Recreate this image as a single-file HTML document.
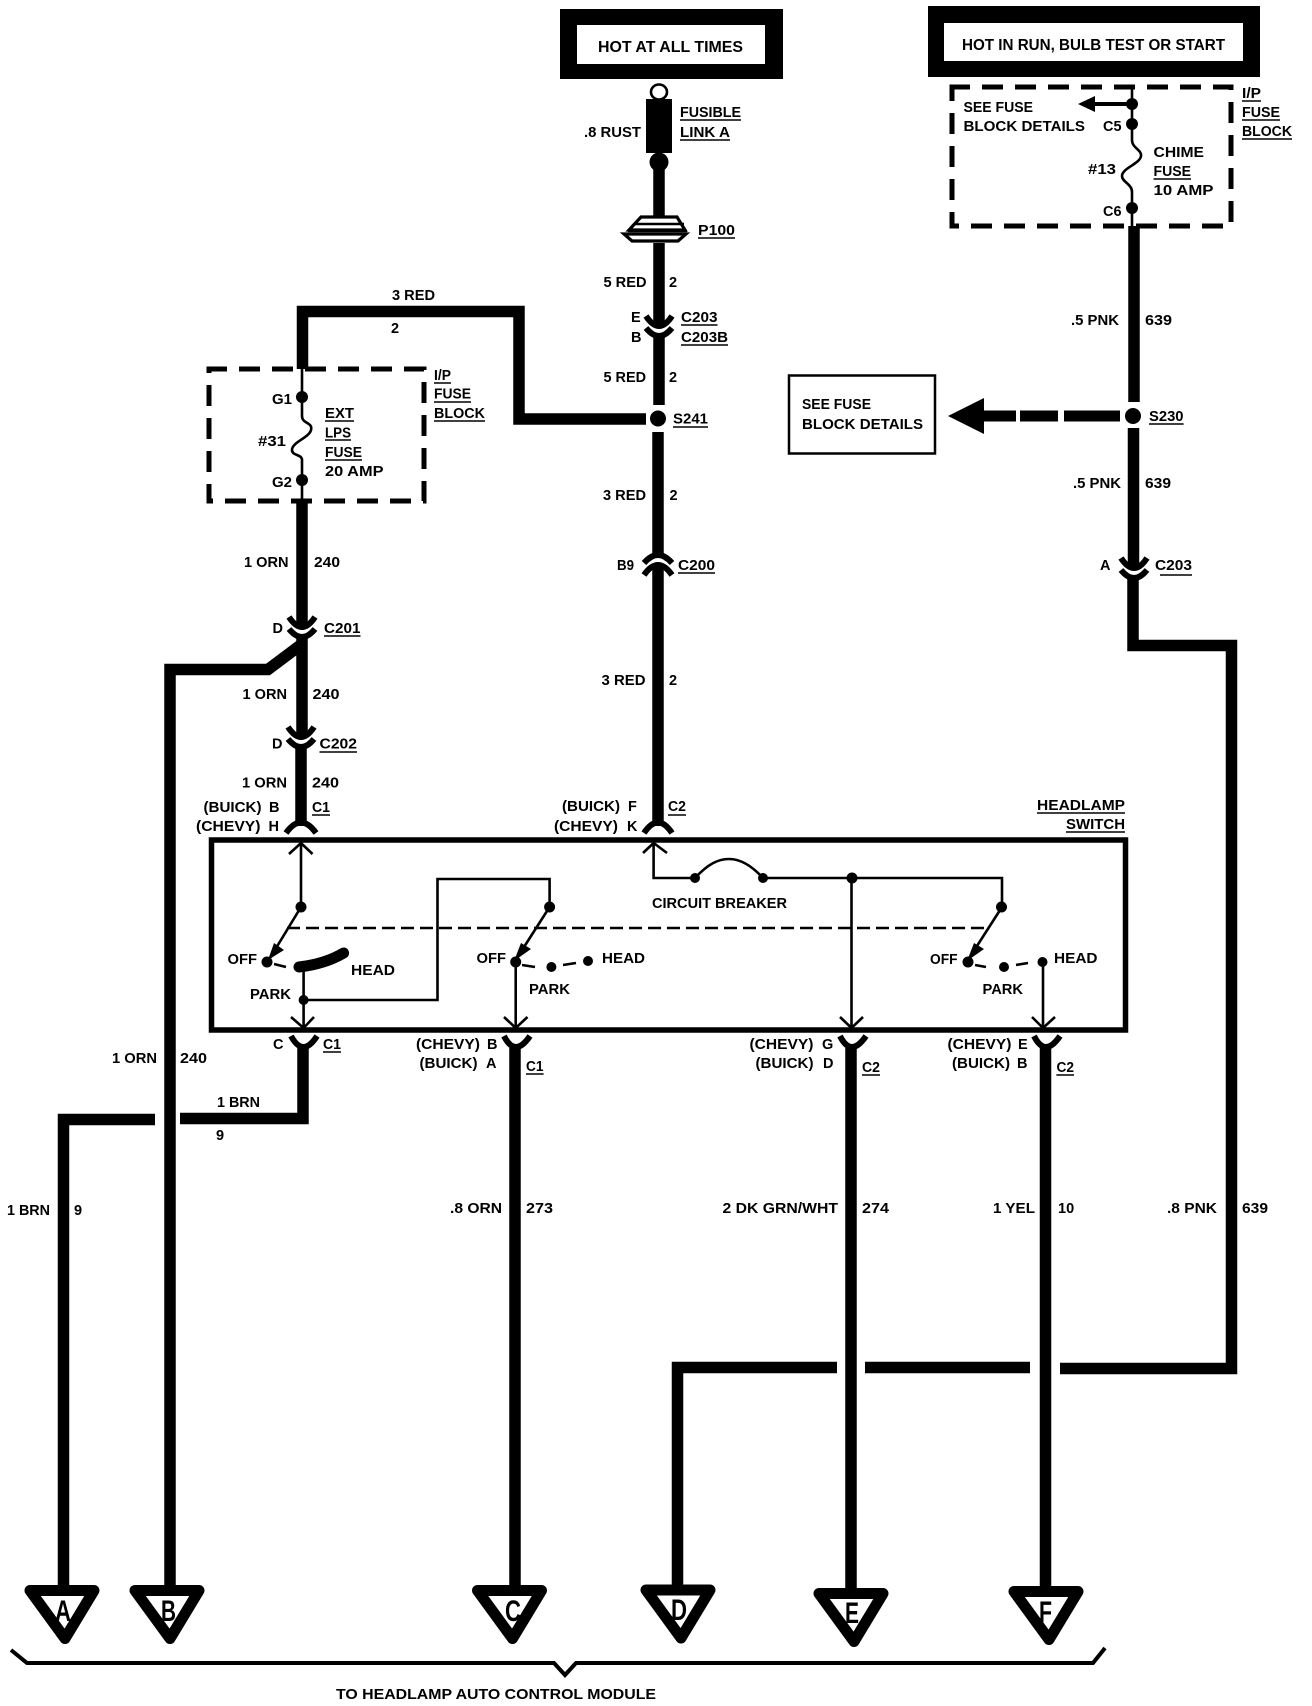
<!DOCTYPE html>
<html><head><meta charset="utf-8"><title>Headlamp switch wiring diagram</title>
<style>
html,body{margin:0;padding:0;background:#fff}
svg{display:block}
text{font-family:"Liberation Sans",sans-serif;font-weight:bold;font-size:14.5px;fill:#000}
.w{fill:none;stroke:#000;stroke-width:11.5}
.t{fill:none;stroke:#000;stroke-width:2.6}
.c{fill:none;stroke:#000;stroke-width:6}
.u{fill:none;stroke:#000;stroke-width:1.5}
.d{fill:none;stroke:#000;stroke-width:5;stroke-dasharray:21 12;stroke-dashoffset:3}
.tri{fill:#fff;stroke:#000;stroke-width:11;stroke-linejoin:round}
.big{font-size:30px}
</style></head><body>
<svg xmlns="http://www.w3.org/2000/svg" width="1312" height="1706" viewBox="0 0 1312 1706">
<rect width="1312" height="1706" fill="#fff"/>

<!-- header boxes -->
<rect x="560" y="9" width="223" height="70"/><rect x="577" y="25" width="188" height="39" fill="#fff"/>
<rect x="928" y="6" width="332" height="71"/><rect x="944" y="23" width="299" height="38" fill="#fff"/>
<text x="598" y="52" style="font-size:16px" textLength="145" lengthAdjust="spacingAndGlyphs">HOT AT ALL TIMES</text>
<text x="962" y="50" style="font-size:16px" textLength="263" lengthAdjust="spacingAndGlyphs">HOT IN RUN, BULB TEST OR START</text>

<!-- main wires -->
<path class="w" d="M659,160V216M659,243V326M659,336V405M658,432V555M658,565V826"/>
<path class="w" d="M646,419H519V311.5H302.5V369"/>
<path class="w" d="M302,501V627M302,637V737M301,747V826"/>
<path class="w" d="M302,644L268,669.5H170V1592"/>
<path class="w" d="M303,1048V1118.5H180"/>
<path class="w" d="M155,1119.5H63.5V1590"/>
<path class="w" d="M515,1048V1590M851,1048V1592M1045.5,1048V1590"/>
<path class="w" d="M1134,226V402M1133.5,428V568M1133,578V645.5H1231.5V1368.5H1060"/>
<path class="w" d="M1030,1367.5H865M837,1367.5H677.5V1588"/>

<!-- fusible link -->
<ellipse cx="659" cy="92" rx="8" ry="7.5" fill="#fff" stroke="#000" stroke-width="2.6"/>
<rect x="646" y="99" width="26" height="54"/>
<circle cx="659" cy="162" r="9.5"/>
<!-- P100 -->
<path d="M641,217H677L685,230H629Z" fill="#fff" stroke="#000" stroke-width="3.2"/>
<path d="M634,224H684" fill="none" stroke="#000" stroke-width="2.6"/>
<path d="M624,234H686L678,241H632Z" fill="#fff" stroke="#000" stroke-width="3.2"/>
<path d="M628,231H687" fill="none" stroke="#000" stroke-width="2.4"/>

<!-- connectors -->
<path class="c" d="M646,316Q659,336 672,316M646,328Q659,344 672,328"/>
<path class="c" d="M289,617Q302,637 315,617M289,629Q302,645 315,629"/>
<path class="c" d="M288,727Q301,747 314,727M288,739Q301,755 314,739"/>
<path class="c" d="M644,563Q658,547 672,563M644,575Q658,555 672,575"/>
<path class="c" d="M1121,558Q1134,578 1147,558M1121,570Q1134,586 1147,570"/>
<path class="c" d="M286,833Q301,812 316,833M644,833Q658,812 672,833"/>
<path class="c" d="M291,1036Q303,1058 317,1036M504,1036Q515,1058 530,1036M840,1036Q851,1058 866,1036M1034,1036Q1045,1058 1060,1036"/>

<!-- dashed fuse boxes -->
<rect class="d" x="209" y="369" width="215" height="132"/>
<rect class="d" x="952" y="87" width="279" height="139"/>
<path class="t" d="M302,369V416C302,424 313,422 311,430C309,438 292,442 292,450C292,456 302,454 302,460V501"/>
<circle cx="302" cy="397" r="6"/><circle cx="302" cy="480" r="6"/>
<path class="t" d="M1132,87V140C1132,148 1142,150 1141,156C1140,164 1122,168 1122,176C1122,182 1132,184 1132,192V226"/>
<circle cx="1132" cy="104" r="6"/><circle cx="1132" cy="124" r="6"/><circle cx="1132" cy="208" r="6"/>
<path d="M1094,104H1132" fill="none" stroke="#000" stroke-width="4"/>
<path d="M1078,104L1095,96V112Z"/>

<!-- splices -->
<circle cx="658" cy="418.5" r="8"/>
<circle cx="1133" cy="416" r="8"/>
<path d="M948,416L984,398V434Z"/>
<rect x="984" y="410.5" width="32" height="11"/><rect x="1020" y="410.5" width="38" height="11"/><rect x="1064" y="410.5" width="56" height="11"/>
<rect x="789" y="375.5" width="146" height="78" fill="#fff" stroke="#000" stroke-width="2.5"/>

<!-- headlamp switch box -->
<rect x="211.5" y="840" width="914" height="190" fill="none" stroke="#000" stroke-width="5.5"/>
<path d="M287,928H986" fill="none" stroke="#000" stroke-width="2.4" stroke-dasharray="13 6"/>
<path class="t" d="M301,843V907L270,958"/>
<path class="t" d="M289,854L301,843L312.5,854"/>
<circle cx="301" cy="907" r="5.5"/>
<path d="M268,960L274,943L284,950Z"/>
<circle cx="267" cy="962" r="5.5"/>
<path class="t" d="M274,964L286,967"/>
<path d="M299,967Q325,964 343.6,953" fill="none" stroke="#000" stroke-width="11" stroke-linecap="round"/>
<path class="t" d="M303.6,970V1028M291,1017L303.6,1028L314,1017"/>
<circle cx="303.6" cy="1000" r="5"/>
<path class="t" d="M303.6,1000H437.5V879H549.6V907L515.7,960"/>
<circle cx="549.6" cy="907" r="5.5"/>
<path d="M514,961L521,943L531,949Z"/>
<circle cx="515.7" cy="962" r="5.5"/>
<path class="t" d="M515.7,962V1028M504,1017L515.7,1028L527.5,1017"/>
<path class="t" d="M522,965L535,967M563,965L576,963"/>
<circle cx="551.4" cy="967" r="5"/><circle cx="588" cy="961" r="5"/>

<path class="t" d="M653.6,843V878H695M643,853L653.6,843L667,853"/>
<circle cx="695" cy="878" r="5"/><circle cx="763" cy="878" r="5"/>
<path class="t" d="M695,878C708,864 718,859 729,859C741,859 752,866 763,878H1002V907L968,960"/>
<circle cx="852" cy="878" r="5.5"/>
<path class="t" d="M851.5,878V1028M840,1017L851.5,1028L863,1017"/>
<circle cx="1001.5" cy="907" r="5.5"/>
<path d="M967,961L974,943L984,949Z"/>
<circle cx="968" cy="962" r="5.5"/>
<path class="t" d="M975,965L986,967M1016,965L1028,963"/>
<circle cx="1004" cy="967" r="5"/><circle cx="1042.5" cy="962" r="5"/>
<path class="t" d="M1043,962V1028M1032,1017L1043,1028L1055,1017"/>

<!-- triangles -->
<polygon class="tri" points="30,1590.5 94,1590.5 65,1638.5"/>
<polygon class="tri" points="135,1590.5 199,1590.5 170,1638.5"/>
<polygon class="tri" points="477.5,1590.5 541.5,1590.5 512.5,1638.5"/>
<polygon class="tri" points="646,1590 710,1590 681,1638"/>
<polygon class="tri" points="819,1593.5 883,1593.5 854,1641.5"/>
<polygon class="tri" points="1014,1591.5 1078,1591.5 1049,1639.5"/>
<text class="big" x="55" y="1621" textLength="16" lengthAdjust="spacingAndGlyphs">A</text>
<text class="big" x="161" y="1621" textLength="15" lengthAdjust="spacingAndGlyphs">B</text>
<text class="big" x="505" y="1621" textLength="16" lengthAdjust="spacingAndGlyphs">C</text>
<text class="big" x="671" y="1620" textLength="16" lengthAdjust="spacingAndGlyphs">D</text>
<text class="big" x="845" y="1623" textLength="14" lengthAdjust="spacingAndGlyphs">E</text>
<text class="big" x="1039" y="1622" textLength="13" lengthAdjust="spacingAndGlyphs">F</text>

<!-- bracket -->
<path d="M11,1650L27,1663H554L565,1675L576,1663H1093L1105,1648" fill="none" stroke="#000" stroke-width="4"/>
<text x="336" y="1699" style="font-size:15px" textLength="320" lengthAdjust="spacingAndGlyphs">TO HEADLAMP AUTO CONTROL MODULE</text>

<!-- underlines -->
<path class="u" d="M680,120H741M680,140H730M698,238H735M681,325H717.5M681,345H728M673,427H708M1149,424H1183.6M434,383H451M434,402H471M434,421H485M325,421H354M325,440H351M325,460H362M1242,101H1261M1242,120H1280M1242,139H1292M1153.5,179H1191M324,636H360.5M319.5,752H357M678,573H715M312,815H330M668,815H686M1037,813H1125M1066,832H1125M323,1052H341M526,1074H543.6M862,1075H880M1056.4,1075H1074M1160,575H1192"/>

<!-- labels: top centre -->
<text x="584" y="137" textLength="57" lengthAdjust="spacingAndGlyphs">.8 RUST</text>
<text x="680" y="117" textLength="61" lengthAdjust="spacingAndGlyphs">FUSIBLE</text>
<text x="680" y="137" textLength="50" lengthAdjust="spacingAndGlyphs">LINK A</text>
<text x="698" y="235" textLength="37" lengthAdjust="spacingAndGlyphs">P100</text>
<text x="603.5" y="287" textLength="43" lengthAdjust="spacingAndGlyphs">5 RED</text>
<text x="669" y="287">2</text>
<text x="631" y="322">E</text>
<text x="631" y="342">B</text>
<text x="681" y="322" textLength="36.5" lengthAdjust="spacingAndGlyphs">C203</text>
<text x="681" y="342" textLength="47" lengthAdjust="spacingAndGlyphs">C203B</text>
<text x="603.5" y="382" textLength="42.5" lengthAdjust="spacingAndGlyphs">5 RED</text>
<text x="669" y="382">2</text>
<text x="673" y="423.5" textLength="35" lengthAdjust="spacingAndGlyphs">S241</text>
<text x="603" y="500" textLength="43" lengthAdjust="spacingAndGlyphs">3 RED</text>
<text x="669.5" y="500">2</text>
<text x="617" y="570" textLength="17" lengthAdjust="spacingAndGlyphs">B9</text>
<text x="678" y="570" textLength="37" lengthAdjust="spacingAndGlyphs">C200</text>
<text x="601.5" y="685" textLength="44" lengthAdjust="spacingAndGlyphs">3 RED</text>
<text x="669" y="685">2</text>
<text x="562" y="811" textLength="58" lengthAdjust="spacingAndGlyphs">(BUICK)</text>
<text x="628" y="811">F</text>
<text x="668" y="811" textLength="18" lengthAdjust="spacingAndGlyphs">C2</text>
<text x="554" y="831" textLength="64" lengthAdjust="spacingAndGlyphs">(CHEVY)</text>
<text x="627" y="831">K</text>

<!-- labels: left -->
<text x="392" y="300" textLength="43" lengthAdjust="spacingAndGlyphs">3 RED</text>
<text x="391" y="333">2</text>
<text x="434" y="380" textLength="17" lengthAdjust="spacingAndGlyphs">I/P</text>
<text x="434" y="398.5" textLength="37" lengthAdjust="spacingAndGlyphs">FUSE</text>
<text x="434" y="418" textLength="51" lengthAdjust="spacingAndGlyphs">BLOCK</text>
<text x="272" y="404" textLength="20" lengthAdjust="spacingAndGlyphs">G1</text>
<text x="272" y="487" textLength="20" lengthAdjust="spacingAndGlyphs">G2</text>
<text x="258" y="446" textLength="28" lengthAdjust="spacingAndGlyphs">#31</text>
<text x="325" y="418" textLength="29" lengthAdjust="spacingAndGlyphs">EXT</text>
<text x="325" y="437.5" textLength="26" lengthAdjust="spacingAndGlyphs">LPS</text>
<text x="325" y="457" textLength="37" lengthAdjust="spacingAndGlyphs">FUSE</text>
<text x="325" y="476" textLength="58.5" lengthAdjust="spacingAndGlyphs">20 AMP</text>
<text x="244" y="567" textLength="44.5" lengthAdjust="spacingAndGlyphs">1 ORN</text>
<text x="314" y="567" textLength="26" lengthAdjust="spacingAndGlyphs">240</text>
<text x="272.5" y="633">D</text>
<text x="324" y="633" textLength="36.5" lengthAdjust="spacingAndGlyphs">C201</text>
<text x="242.5" y="699" textLength="44.5" lengthAdjust="spacingAndGlyphs">1 ORN</text>
<text x="312.5" y="699" textLength="27" lengthAdjust="spacingAndGlyphs">240</text>
<text x="272" y="748.5">D</text>
<text x="319.5" y="748.5" textLength="37.5" lengthAdjust="spacingAndGlyphs">C202</text>
<text x="242" y="787.5" textLength="45" lengthAdjust="spacingAndGlyphs">1 ORN</text>
<text x="312" y="787.5" textLength="27" lengthAdjust="spacingAndGlyphs">240</text>
<text x="203.5" y="812" textLength="58" lengthAdjust="spacingAndGlyphs">(BUICK)</text>
<text x="269" y="812">B</text>
<text x="312" y="812" textLength="18" lengthAdjust="spacingAndGlyphs">C1</text>
<text x="196" y="831" textLength="64.5" lengthAdjust="spacingAndGlyphs">(CHEVY)</text>
<text x="268.5" y="831">H</text>

<!-- labels: right -->
<text x="963.5" y="112" textLength="69.5" lengthAdjust="spacingAndGlyphs">SEE FUSE</text>
<text x="963.5" y="131" textLength="121.5" lengthAdjust="spacingAndGlyphs">BLOCK DETAILS</text>
<text x="1103" y="131" textLength="18.5" lengthAdjust="spacingAndGlyphs">C5</text>
<text x="1103" y="216" textLength="18.5" lengthAdjust="spacingAndGlyphs">C6</text>
<text x="1088" y="174" textLength="28" lengthAdjust="spacingAndGlyphs">#13</text>
<text x="1153.5" y="157" textLength="50.5" lengthAdjust="spacingAndGlyphs">CHIME</text>
<text x="1153.5" y="176" textLength="37.5" lengthAdjust="spacingAndGlyphs">FUSE</text>
<text x="1153.5" y="195" textLength="60" lengthAdjust="spacingAndGlyphs">10 AMP</text>
<text x="1242" y="98" textLength="19" lengthAdjust="spacingAndGlyphs">I/P</text>
<text x="1242" y="117" textLength="38" lengthAdjust="spacingAndGlyphs">FUSE</text>
<text x="1242" y="136" textLength="50" lengthAdjust="spacingAndGlyphs">BLOCK</text>
<text x="1071" y="325" textLength="48" lengthAdjust="spacingAndGlyphs">.5 PNK</text>
<text x="1145" y="325" textLength="27" lengthAdjust="spacingAndGlyphs">639</text>
<text x="1149" y="421" textLength="34.5" lengthAdjust="spacingAndGlyphs">S230</text>
<text x="802" y="409" textLength="69" lengthAdjust="spacingAndGlyphs">SEE FUSE</text>
<text x="802" y="429" textLength="121" lengthAdjust="spacingAndGlyphs">BLOCK DETAILS</text>
<text x="1073" y="488" textLength="48" lengthAdjust="spacingAndGlyphs">.5 PNK</text>
<text x="1145" y="488" textLength="26" lengthAdjust="spacingAndGlyphs">639</text>
<text x="1100" y="570">A</text>
<text x="1155" y="570" textLength="37" lengthAdjust="spacingAndGlyphs">C203</text>

<!-- labels: switch -->
<text x="1037" y="810" textLength="88" lengthAdjust="spacingAndGlyphs">HEADLAMP</text>
<text x="1066" y="829" textLength="59" lengthAdjust="spacingAndGlyphs">SWITCH</text>
<text x="652" y="908" textLength="135" lengthAdjust="spacingAndGlyphs">CIRCUIT BREAKER</text>
<text x="227.5" y="964" textLength="29.5" lengthAdjust="spacingAndGlyphs">OFF</text>
<text x="351" y="975" textLength="44" lengthAdjust="spacingAndGlyphs">HEAD</text>
<text x="250" y="999" textLength="41" lengthAdjust="spacingAndGlyphs">PARK</text>
<text x="476.5" y="963" textLength="29.5" lengthAdjust="spacingAndGlyphs">OFF</text>
<text x="602" y="963" textLength="43" lengthAdjust="spacingAndGlyphs">HEAD</text>
<text x="529" y="994" textLength="41" lengthAdjust="spacingAndGlyphs">PARK</text>
<text x="930" y="964" textLength="27.5" lengthAdjust="spacingAndGlyphs">OFF</text>
<text x="1054" y="963" textLength="43.5" lengthAdjust="spacingAndGlyphs">HEAD</text>
<text x="982.5" y="994" textLength="40.5" lengthAdjust="spacingAndGlyphs">PARK</text>

<!-- labels: below switch -->
<text x="273" y="1049">C</text>
<text x="323" y="1049" textLength="18" lengthAdjust="spacingAndGlyphs">C1</text>
<text x="416" y="1049" textLength="64" lengthAdjust="spacingAndGlyphs">(CHEVY)</text>
<text x="487" y="1049">B</text>
<text x="419.5" y="1068" textLength="58" lengthAdjust="spacingAndGlyphs">(BUICK)</text>
<text x="486" y="1068">A</text>
<text x="526" y="1071" textLength="17.5" lengthAdjust="spacingAndGlyphs">C1</text>
<text x="749.5" y="1049" textLength="64" lengthAdjust="spacingAndGlyphs">(CHEVY)</text>
<text x="822" y="1049">G</text>
<text x="755.5" y="1068" textLength="58" lengthAdjust="spacingAndGlyphs">(BUICK)</text>
<text x="823" y="1068">D</text>
<text x="862" y="1072" textLength="18" lengthAdjust="spacingAndGlyphs">C2</text>
<text x="947.5" y="1049" textLength="64" lengthAdjust="spacingAndGlyphs">(CHEVY)</text>
<text x="1018" y="1049">E</text>
<text x="952" y="1068" textLength="58" lengthAdjust="spacingAndGlyphs">(BUICK)</text>
<text x="1017" y="1068">B</text>
<text x="1056.5" y="1072" textLength="17.5" lengthAdjust="spacingAndGlyphs">C2</text>

<text x="112" y="1063" textLength="45" lengthAdjust="spacingAndGlyphs">1 ORN</text>
<text x="180" y="1063" textLength="27" lengthAdjust="spacingAndGlyphs">240</text>
<text x="217" y="1107" textLength="43" lengthAdjust="spacingAndGlyphs">1 BRN</text>
<text x="216" y="1140">9</text>
<text x="7" y="1215" textLength="43" lengthAdjust="spacingAndGlyphs">1 BRN</text>
<text x="74" y="1215">9</text>
<text x="450" y="1213" textLength="52" lengthAdjust="spacingAndGlyphs">.8 ORN</text>
<text x="526" y="1213" textLength="27" lengthAdjust="spacingAndGlyphs">273</text>
<text x="722.5" y="1213" textLength="115.5" lengthAdjust="spacingAndGlyphs">2 DK GRN/WHT</text>
<text x="862" y="1213" textLength="27" lengthAdjust="spacingAndGlyphs">274</text>
<text x="993" y="1213" textLength="42" lengthAdjust="spacingAndGlyphs">1 YEL</text>
<text x="1058" y="1213">10</text>
<text x="1167" y="1213" textLength="50" lengthAdjust="spacingAndGlyphs">.8 PNK</text>
<text x="1242" y="1213" textLength="26" lengthAdjust="spacingAndGlyphs">639</text>
</svg>
</body></html>
